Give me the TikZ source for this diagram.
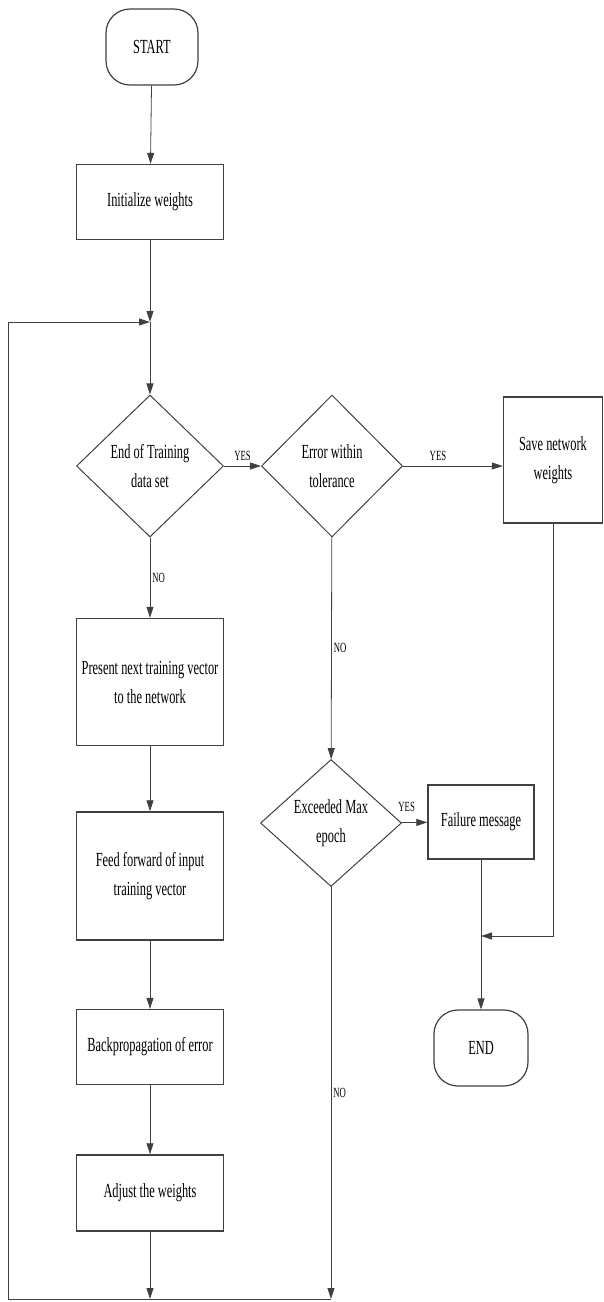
\documentclass[tikz,border=0pt]{standalone}
\usepackage{fontspec}
\setmainfont{Liberation Serif}[FakeStretch=0.62]
\usetikzlibrary{shapes.geometric,arrows.meta}

\begin{document}
\begin{tikzpicture}[x=1pt,y=1pt,
    every node/.style={font=\fontsize{20}{29}\selectfont, align=center},
    box/.style={draw=black!75, line width=1.4pt, rectangle,
      minimum width=147pt, inner sep=0pt},
    term/.style={draw=black!75, line width=1.2pt, rounded corners=24pt,
      minimum width=92pt, minimum height=76pt, inner sep=0pt},
    decision/.style={draw=black!75, line width=1pt, diamond,
      minimum width=145pt, inner sep=0pt},
    flow/.style={draw=black!75, line width=0.8pt,
      -{Triangle[length=11pt,width=7pt]}},
    answer/.style={font=\fontsize{14}{16}\selectfont, inner sep=2pt}]
  \useasboundingbox (0,0) rectangle (604,-1302);

  % main column
  \node[term] (start) at (152,-47) {START};
  \node[box, minimum height=75pt] (init) at (150,-202) {Initialize weights};
  \coordinate (merge) at (150,-322);
  \node[decision, minimum width=147pt, minimum height=142pt] (dataend)
    at (150,-466) {End of Training\\data set};
  \node[box, minimum height=127pt] (present) at (150,-682)
    {Present next training vector\\to the network};
  \node[box, minimum height=128pt] (feed) at (150,-876)
    {Feed forward of input\\training vector};
  \node[box, minimum height=75pt] (backprop) at (150,-1047)
    {Backpropagation of error};
  \node[box, minimum height=76pt] (adjust) at (150,-1193) {Adjust the weights};

  % checks
  \node[decision, minimum width=141pt, minimum height=142pt] (tol)
    at (332,-466) {Error within\\tolerance};
  \node[decision, minimum width=141pt, minimum height=127pt] (maxep)
    at (331,-823) {Exceeded Max\\epoch};

  % outcomes
  \node[box, minimum width=99pt, minimum height=126pt] (save)
    at (553,-460) {Save network\\weights};
  \node[box, minimum width=106pt, minimum height=74pt] (fail)
    at (481,-822) {Failure message};
  \node[term, minimum width=94pt] (finish) at (481,-1048) {END};
  \coordinate (meet) at (481,-936);
  \coordinate (corner) at (8,-1299);

  \draw[flow] (start) -- (init);
  \draw[flow] (init) -- (merge);
  \draw[flow] (merge) -- (dataend);
  \draw[flow] (dataend) -- node[answer, above=3pt] {YES} (tol);
  \draw[flow] (tol.east) -- node[answer, above=3pt, pos=0.35] {YES}
    (tol.east -| save.west);
  \draw[flow] (dataend) -- node[answer, right] {NO} (present);
  \draw[flow] (present) -- (feed);
  \draw[flow] (feed) -- (backprop);
  \draw[flow] (backprop) -- (adjust);
  \draw[flow] (adjust) -- (adjust |- corner);
  \draw[flow] (tol) -- node[answer, right] {NO} (maxep);
  \draw[flow] (maxep) -- node[answer, above=8pt, pos=0.2] {YES} (fail);
  \draw[flow] (fail) -- (finish);
  \draw[flow] (save.south) |- (meet);
  \draw[flow] (maxep) -- node[answer, right] {NO} (maxep |- corner);
  \draw[flow] (maxep |- corner) -- (corner) |- (merge);
\end{tikzpicture}
\end{document}
